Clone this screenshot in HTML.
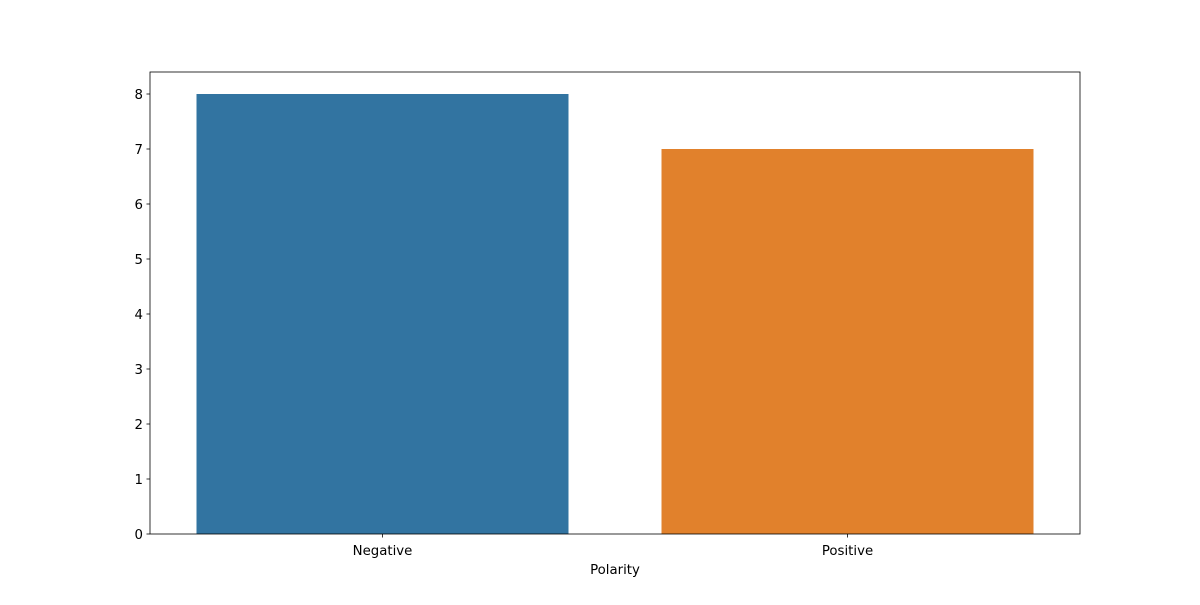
<!DOCTYPE html>
<html><head><meta charset="utf-8"><style>
body{margin:0;background:#fff;}
svg text{font-family:"DejaVu Sans","Liberation Sans",sans-serif;font-size:13.3px;fill:#000;}
</style></head><body>
<svg id="chart" width="1200" height="600">
<rect x="0" y="0" width="1200" height="600" fill="#fff"/>
<g id="bars"></g>
<g id="axes"></g>
<text x="615" y="574" text-anchor="middle">Polarity</text>
</svg>
<script>
const categories = ["Negative", "Positive"];
const counts = [8, 7];
const yTicks = [0, 1, 2, 3, 4, 5, 6, 7, 8];
const colors = ["#3274a1", "#e1812c"];

const L = 150, R = 1080, T = 72, B = 534;
const yMax = Math.max(...counts) * 1.05;
const ns = "http://www.w3.org/2000/svg";
function yS(v){ return B - (v / yMax) * (B - T); }
function xS(i){ return L + (i + 0.5) / categories.length * (R - L); }
const band = (R - L) / categories.length * 0.8;

const bars = document.getElementById('bars');
const axes = document.getElementById('axes');
function mk(tag, attrs, parent){ const e = document.createElementNS(ns, tag); for (const k in attrs) e.setAttribute(k, attrs[k]); parent.appendChild(e); return e; }

categories.forEach((c, i) => {
  const r = mk('rect', {x: xS(i) - band/2, y: yS(counts[i]), width: band, height: B - yS(counts[i]), fill: colors[i]}, bars);
  
  
  const t = mk('line', {x1: xS(i), x2: xS(i), y1: B, y2: B + 3.5, stroke: '#000', 'stroke-width': 0.8}, axes);
  
  
  const lb = mk('text', {x: xS(i), y: B + 21, 'text-anchor': 'middle'}, axes);
  lb.textContent = c;
  
  
});

yTicks.forEach(v => {
  const y = yS(v);
  const t = mk('line', {x1: L - 3.5, x2: L, y1: y, y2: y, stroke: '#000', 'stroke-width': 0.8}, axes);
  
  
  const lb = mk('text', {x: L - 7, y: y + 5, 'text-anchor': 'end'}, axes);
  lb.textContent = v;
  
  
});

const frame = mk('rect', {x: L, y: T, width: R - L, height: B - T, fill: 'none', stroke: '#000', 'stroke-width': 0.8}, axes);


</script>
</body></html>
